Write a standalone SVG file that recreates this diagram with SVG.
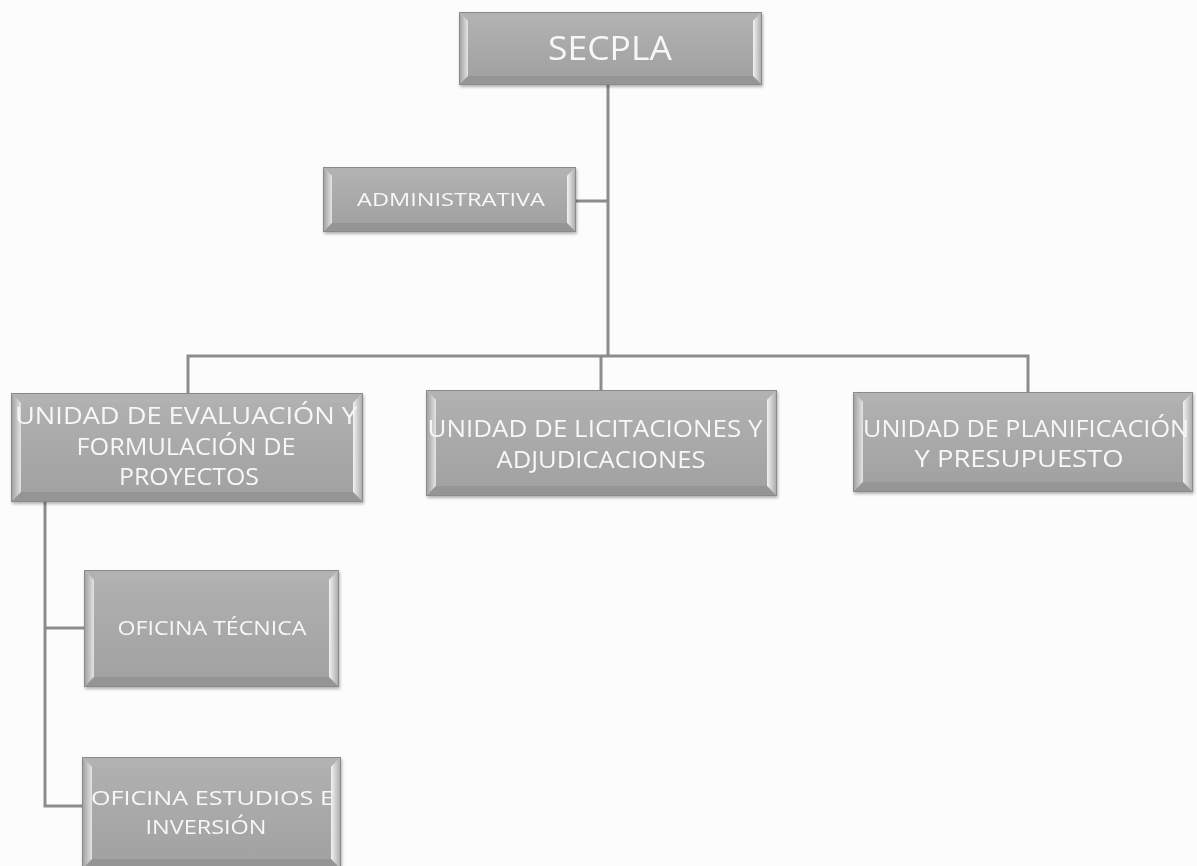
<svg xmlns="http://www.w3.org/2000/svg" width="1197" height="866" viewBox="0 0 1197 866">
  <defs>
    <linearGradient id="gLeft" x1="0" y1="0" x2="1" y2="0">
      <stop offset="0" stop-color="#9c9c9c"/>
      <stop offset="1" stop-color="#e4e4e4"/>
    </linearGradient>
    <linearGradient id="gRight" x1="0" y1="0" x2="1" y2="0">
      <stop offset="0" stop-color="#f2f2f2"/>
      <stop offset="1" stop-color="#a6a6a6"/>
    </linearGradient>
    <linearGradient id="gFace" x1="0" y1="0" x2="0" y2="1">
      <stop offset="0" stop-color="#b0b0b0"/>
      <stop offset="1" stop-color="#a2a2a2"/>
    </linearGradient>
    <filter id="shadow" x="-5%" y="-10%" width="110%" height="125%">
      <feDropShadow dx="1" dy="2" stdDeviation="1.5" flood-color="#000" flood-opacity="0.3"/>
    </filter>
  </defs>
  <style>
    .top { fill: #b2b2b2; }
    .left { fill: url(#gLeft); }
    .right { fill: url(#gRight); }
    .bottom { fill: #959595; }
    .face { fill: url(#gFace); }
    .frame { fill: none; stroke: #8a8a8a; stroke-width: 1; }
    .lbl { fill: #f7f7f7; font-family: "Open Sans", Lato, "Liberation Sans", sans-serif; text-anchor: middle; }
    .conn { fill: none; stroke: #8c8c8c; stroke-width: 3; }
  </style>
  <rect width="1197" height="866" fill="#fcfcfc"/>

  <g id="connectors">
    <path class="conn" d="M608 85 V356"/>
    <path class="conn" d="M576 201 H608"/>
    <path class="conn" d="M188 393 V356 H1028 V392"/>
    <path class="conn" d="M601 356 V390"/>
    <path class="conn" d="M45 502 V806 H84"/>
    <path class="conn" d="M45 628 H84"/>
  </g>

  <!-- SECPLA: 459,12 303x73 -->
  <g id="secpla" filter="url(#shadow)">
    <polygon class="top" points="459,12 762,12 753,21 468,21"/>
    <polygon class="left" points="459,12 468,21 468,76 459,85"/>
    <polygon class="right" points="762,12 762,85 753,76 753,21"/>
    <polygon class="bottom" points="459,85 762,85 753,76 468,76"/>
    <rect class="face" x="468" y="21" width="285" height="55"/>
    <rect class="frame" x="459.5" y="12.5" width="302" height="72"/>
    <text class="lbl" x="610" y="60" font-size="33" textLength="124" lengthAdjust="spacingAndGlyphs">SECPLA</text>
  </g>

  <!-- ADMINISTRATIVA: 323,167 253x65 -->
  <g id="administrativa" filter="url(#shadow)">
    <polygon class="top" points="323,167 576,167 567,176 332,176"/>
    <polygon class="left" points="323,167 332,176 332,223 323,232"/>
    <polygon class="right" points="576,167 576,232 567,223 567,176"/>
    <polygon class="bottom" points="323,232 576,232 567,223 332,223"/>
    <rect class="face" x="332" y="176" width="235" height="47"/>
    <rect class="frame" x="323.5" y="167.5" width="252" height="64"/>
    <text class="lbl" x="451" y="206" font-size="18" textLength="188" lengthAdjust="spacingAndGlyphs">ADMINISTRATIVA</text>
  </g>

  <!-- Unidad de evaluación: 11,393 352x109 -->
  <g id="unidad-evaluacion" filter="url(#shadow)">
    <polygon class="top" points="11,393 363,393 353,403 21,403"/>
    <polygon class="left" points="11,393 21,403 21,492 11,502"/>
    <polygon class="right" points="363,393 363,502 353,492 353,403"/>
    <polygon class="bottom" points="11,502 363,502 353,492 21,492"/>
    <rect class="face" x="21" y="403" width="332" height="89"/>
    <rect class="frame" x="11.5" y="393.5" width="351" height="108"/>
    <text class="lbl" font-size="23">
      <tspan x="189" y="424" textLength="342" lengthAdjust="spacingAndGlyphs">UNIDAD DE EVALUACIÓN Y</tspan>
      <tspan x="189" y="455" textLength="219" lengthAdjust="spacingAndGlyphs">FORMULACIÓN DE</tspan>
      <tspan x="189" y="485" textLength="140" lengthAdjust="spacingAndGlyphs">PROYECTOS</tspan>
    </text>
  </g>

  <!-- Unidad de licitaciones: 426,390 351x106 -->
  <g id="unidad-licitaciones" filter="url(#shadow)">
    <polygon class="top" points="426,390 777,390 767,400 436,400"/>
    <polygon class="left" points="426,390 436,400 436,486 426,496"/>
    <polygon class="right" points="777,390 777,496 767,486 767,400"/>
    <polygon class="bottom" points="426,496 777,496 767,486 436,486"/>
    <rect class="face" x="436" y="400" width="331" height="86"/>
    <rect class="frame" x="426.5" y="390.5" width="350" height="105"/>
    <text class="lbl" font-size="23">
      <tspan x="598" y="437" textLength="335" lengthAdjust="spacingAndGlyphs">UNIDAD DE LICITACIONES Y</tspan>
      <tspan x="601" y="468" textLength="209" lengthAdjust="spacingAndGlyphs">ADJUDICACIONES</tspan>
    </text>
  </g>

  <!-- Unidad de planificación: 853,392 340x100 -->
  <g id="unidad-planificacion" filter="url(#shadow)">
    <polygon class="top" points="853,392 1193,392 1183,402 863,402"/>
    <polygon class="left" points="853,392 863,402 863,482 853,492"/>
    <polygon class="right" points="1193,392 1193,492 1183,482 1183,402"/>
    <polygon class="bottom" points="853,492 1193,492 1183,482 863,482"/>
    <rect class="face" x="863" y="402" width="320" height="80"/>
    <rect class="frame" x="853.5" y="392.5" width="339" height="99"/>
    <text class="lbl" font-size="23">
      <tspan x="1029" y="437" textLength="326" lengthAdjust="spacingAndGlyphs">UNIDAD DE PLANIFICACIÓN</tspan>
      <tspan x="1019" y="467" textLength="209" lengthAdjust="spacingAndGlyphs">Y PRESUPUESTO</tspan>
    </text>
  </g>

  <!-- Oficina técnica: 84,570 255x117 -->
  <g id="oficina-tecnica" filter="url(#shadow)">
    <polygon class="top" points="84,570 339,570 329,580 94,580"/>
    <polygon class="left" points="84,570 94,580 94,677 84,687"/>
    <polygon class="right" points="339,570 339,687 329,677 329,580"/>
    <polygon class="bottom" points="84,687 339,687 329,677 94,677"/>
    <rect class="face" x="94" y="580" width="235" height="97"/>
    <rect class="frame" x="84.5" y="570.5" width="254" height="116"/>
    <text class="lbl" x="212" y="635" font-size="20" textLength="189" lengthAdjust="spacingAndGlyphs">OFICINA TÉCNICA</text>
  </g>

  <!-- Oficina estudios e inversión: 82,757 259x112 (runs past the bottom edge) -->
  <g id="oficina-estudios" filter="url(#shadow)">
    <polygon class="top" points="82,757 341,757 331,767 92,767"/>
    <polygon class="left" points="82,757 92,767 92,859 82,869"/>
    <polygon class="right" points="341,757 341,869 331,859 331,767"/>
    <polygon class="bottom" points="82,869 341,869 331,859 92,859"/>
    <rect class="face" x="92" y="767" width="239" height="92"/>
    <rect class="frame" x="82.5" y="757.5" width="258" height="111"/>
    <text class="lbl" font-size="20">
      <tspan x="215" y="805" textLength="243" lengthAdjust="spacingAndGlyphs">OFICINA ESTUDIOS E</tspan>
      <tspan x="206" y="834" textLength="121" lengthAdjust="spacingAndGlyphs">INVERSIÓN</tspan>
    </text>
  </g>
</svg>
